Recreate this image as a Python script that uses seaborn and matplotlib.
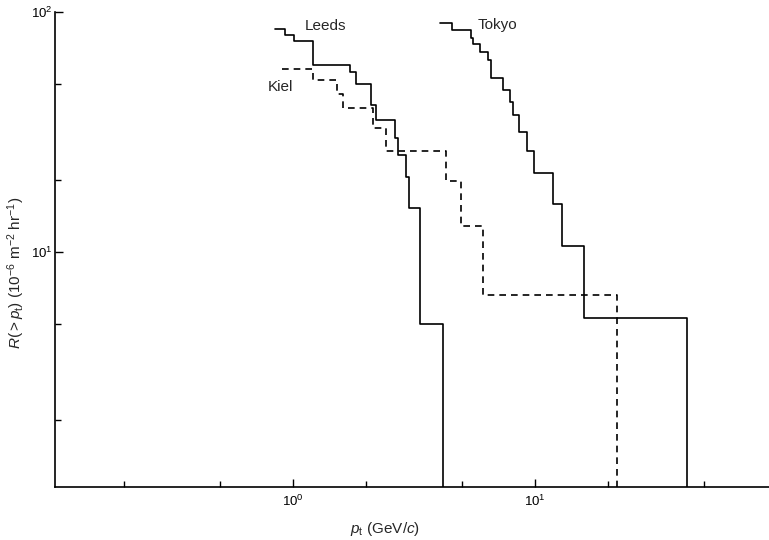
import numpy as np
import pandas as pd
import matplotlib
matplotlib.use("Agg")
import matplotlib.pyplot as plt
from matplotlib.ticker import LogLocator, NullFormatter
import seaborn as sns

# ==========================
# data (step edges in GeV/c, rates in 1e-6 m^-2 hr^-1)
# ==========================

leeds_edges = [0.843, 0.927, 1.01, 1.21, 1.72, 1.83, 2.11, 2.20, 2.64, 2.72, 2.93, 3.01, 3.35, 4.17]
leeds_rate = [85.0, 80.0, 76.0, 60.0, 56.0, 50.0, 41.0, 35.5, 30.0, 25.4, 20.5, 15.3, 5.0]

kiel_edges = [0.898, 1.21, 1.52, 1.61, 2.14, 2.42, 4.29, 4.95, 6.10, 21.8]
kiel_rate = [58.0, 52.0, 45.5, 40.0, 32.8, 26.3, 19.8, 12.8, 6.6]

tokyo_edges = [4.05, 4.53, 5.44, 5.56, 5.93, 6.38, 6.58, 7.40, 7.88, 8.11, 8.59,
               9.25, 9.94, 11.9, 12.97, 16.0, 42.4]
tokyo_rate = [89.7, 84.1, 77.6, 73.6, 68.3, 63.1, 52.9, 47.3, 42.1, 37.2, 31.7,
              26.3, 21.4, 15.9, 10.6, 5.3]

FLOOR = 0.5  # last step drops below the axis


def step_frame(edges, rate, name):
    return pd.DataFrame({
        "pt": edges,
        "R": list(rate) + [FLOOR],
        "site": name,
    })


df = pd.concat([
    step_frame(leeds_edges, leeds_rate, "Leeds"),
    step_frame(kiel_edges, kiel_rate, "Kiel"),
    step_frame(tokyo_edges, tokyo_rate, "Tokyo"),
], ignore_index=True)

# ==========================
# plot
# ==========================

sns.set_style("ticks")
plt.rcParams["font.family"] = ["Liberation Sans", "DejaVu Sans"]
plt.rcParams["mathtext.fontset"] = "custom"
plt.rcParams["mathtext.rm"] = "Liberation Sans"
plt.rcParams["mathtext.it"] = "Liberation Sans:italic"

fig = plt.figure(figsize=(7.69, 5.40), dpi=100)
ax = fig.add_axes([55 / 769, 53 / 540, 714 / 769, 475 / 540])

styles = {"Leeds": "-", "Kiel": (0, (4, 3)), "Tokyo": "-"}
for site, sub in df.groupby("site", sort=False):
    sns.lineplot(
        data=sub, x="pt", y="R", ax=ax,
        estimator=None, sort=False,
        drawstyle="steps-post",
        color="black", linewidth=1.2,
        linestyle=styles[site],
        legend=False,
    )

ax.set_xscale("log")
ax.set_yscale("log")
ax.set_xlim(0.104, 92.7)
ax.set_ylim(1.05, 100)

for axis in (ax.xaxis, ax.yaxis):
    axis.set_major_locator(LogLocator(base=10, numticks=10))
    axis.set_minor_locator(LogLocator(base=10, subs=(2.0, 5.0), numticks=10))
    axis.set_minor_formatter(NullFormatter())

ax.tick_params(which="both", direction="in", width=1.0, colors="black",
               labelsize=9.5)
ax.tick_params(axis="x", pad=5)
ax.tick_params(axis="y", pad=1.5)
ax.tick_params(which="major", length=6)
ax.tick_params(which="minor", length=4.5)

sns.despine(ax=ax)
for s in ("left", "bottom"):
    ax.spines[s].set_linewidth(1.2)
    ax.spines[s].set_color("black")

ax.set_xlabel(r"$p_{\rm t}$ (GeV/$c$)", fontsize=11)
ax.xaxis.set_label_coords(0.462, -0.07)
ax.set_ylabel(r"$R(>p_{\rm t})$ $(10^{-6}$ m$^{-2}$ hr$^{-1})$", fontsize=11)
ax.yaxis.set_label_coords(-0.039, 0.45)

ax.text(1.12, 87.4, "Leeds", fontsize=11, ha="left", va="center")
ax.text(0.788, 48.7, "Kiel", fontsize=11, ha="left", va="center")
ax.text(5.81, 88.3, "Tokyo", fontsize=11, ha="left", va="center")

fig.savefig("out.png", dpi=100)
